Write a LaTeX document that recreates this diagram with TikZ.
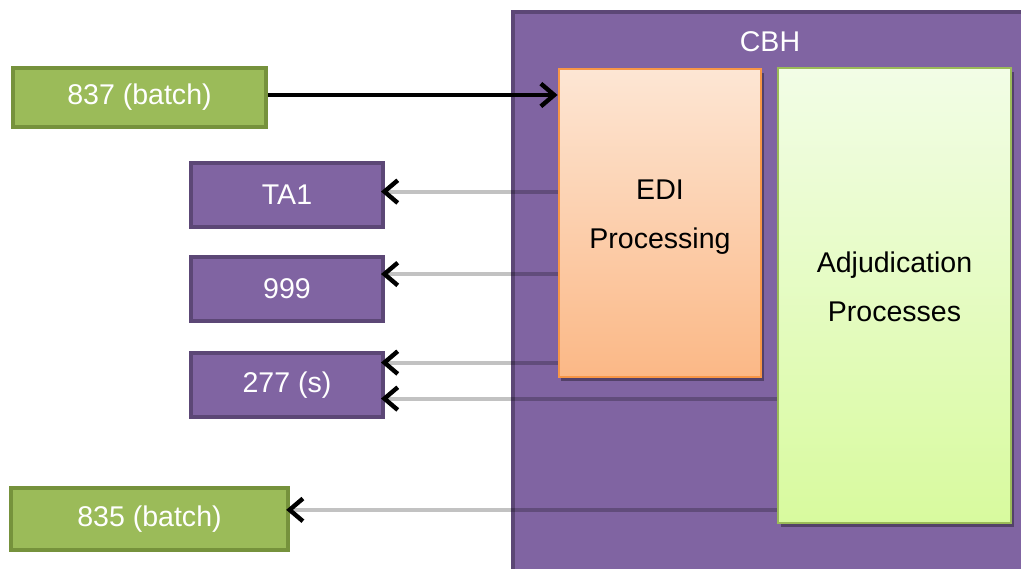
\documentclass[tikz,border=0pt]{standalone}
\usepackage{fontspec}
\setmainfont{Liberation Sans}
\usetikzlibrary{arrows.meta,calc,shadows}
\definecolor{cbhfill}{HTML}{8064A2}
\definecolor{cbhline}{HTML}{5C4776}
\definecolor{ediline}{HTML}{F79646}
\definecolor{editop}{HTML}{FDE6D4}
\definecolor{edibot}{HTML}{FBB886}
\definecolor{adjline}{HTML}{9BBB59}
\definecolor{adjtop}{HTML}{F2FDE6}
\definecolor{adjbot}{HTML}{D8FA9E}
\definecolor{batchfill}{HTML}{9BBB59}
\definecolor{batchline}{HTML}{76923C}
\definecolor{feedgray}{HTML}{C2C2C2}
\tikzset{
  chev/.tip={Straight Barb[length=10pt, width=17pt, line width=3.3pt, color=black]},
  txt/.style={font=\fontsize{21.4}{37}\selectfont, align=center},
  batchbox/.style={txt, text=white, fill=batchfill, draw=batchline, line width=3pt, inner sep=0pt},
  ackbox/.style={txt, text=white, fill=cbhfill, draw=cbhline, line width=3pt, inner sep=0pt,
    minimum width=144pt, minimum height=48pt},
  procbox/.style={txt, text=black, line width=1.6pt, inner sep=0pt, text depth=13pt,
    drop shadow={shadow xshift=2pt, shadow yshift=-3pt, opacity=0.35, fill=black}},
  inflow/.style={line width=3pt, -{chev}},
  outflow/.style={line width=3pt, draw=feedgray, blend mode=multiply, -{chev}, shorten >=-3pt},
}
\begin{document}
\begin{tikzpicture}[x=0.75pt, y=-0.75pt]
\useasboundingbox (0,0) rectangle (1021,568);
\clip (0,0) rectangle (1021,568);

% CBH container, running off the right and bottom edges
\draw[fill=cbhfill, draw=cbhline, line width=3pt] (513,12) rectangle (1040,590);
\node[txt, text=white] (cbh) at (770,42) {CBH};

% processing stages inside CBH
\node[procbox, draw=ediline, top color=editop, bottom color=edibot,
      minimum width=152pt, minimum height=231pt] (edi) at (660,223) {EDI\\Processing};
\node[procbox, draw=adjline, top color=adjtop, bottom color=adjbot,
      minimum width=175pt, minimum height=341pt] (adj) at (894.5,295.5) {Adjudication\\Processes};

% transaction boxes
\node[batchbox, minimum width=190pt, minimum height=44pt] (in837) at (139.5,97.5) {837 (batch)};
\node[ackbox] (ta1) at (287,195) {TA1};
\node[ackbox] (ack999) at (287,289) {999};
\node[ackbox] (s277) at (287,385) {277 (s)};
\node[batchbox, minimum width=208pt, minimum height=46pt] (out835) at (149.5,519) {835 (batch)};

% attachment points on the transaction boxes
\coordinate (p837) at ($(in837.north east)!0.46!(in837.south east)$);
\coordinate (pta1) at ($(ta1.north east)!0.45!(ta1.south east)$);
\coordinate (p999) at ($(ack999.north east)!0.28!(ack999.south east)$);
\coordinate (p277a) at ($(s277.north east)!0.17!(s277.south east)$);
\coordinate (p277b) at ($(s277.north east)!0.70!(s277.south east)$);
\coordinate (p835) at ($(out835.north east)!0.36!(out835.south east)$);

% flows
\draw[inflow] (p837) -- (edi.west |- p837);
\draw[outflow] (edi.west |- pta1) -- (pta1);
\draw[outflow] (edi.west |- p999) -- (p999);
\draw[outflow] (edi.west |- p277a) -- (p277a);
\draw[outflow] (adj.west |- p277b) -- (p277b);
\draw[outflow] (adj.west |- p835) -- (p835);
\end{tikzpicture}
\end{document}
